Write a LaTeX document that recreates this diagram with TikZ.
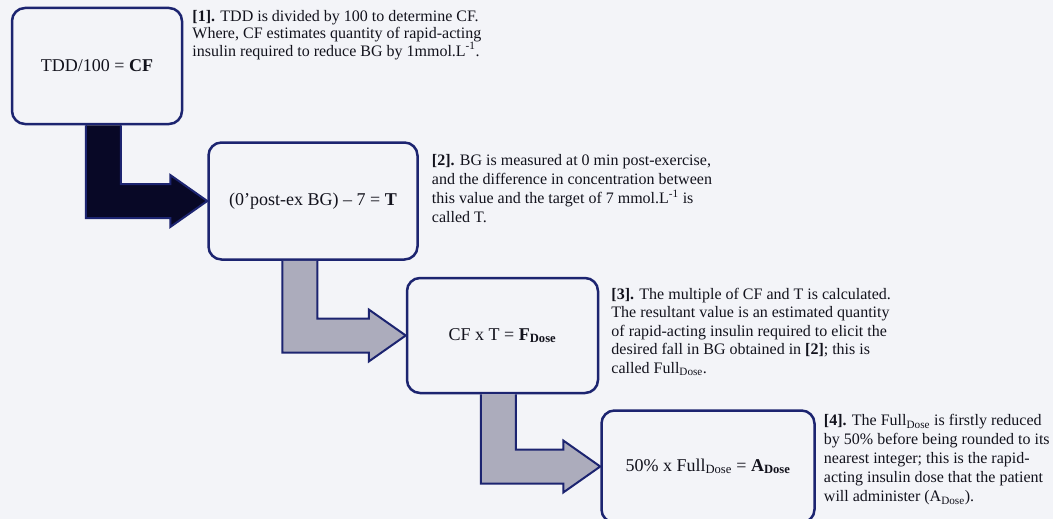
\documentclass[tikz,border=0pt]{standalone}
\usepackage{fontspec}
\setmainfont{Liberation Serif}
\usetikzlibrary{positioning, calc}

\definecolor{paper}{RGB}{243,244,248}
\definecolor{navy}{RGB}{28,36,112}
\definecolor{inkdark}{RGB}{8,8,38}
\definecolor{steelgrey}{RGB}{172,172,188}
\definecolor{ink}{RGB}{18,18,28}

\begin{document}
\begin{tikzpicture}[
    x=1pt, y=1pt,
    box/.style={draw=navy, line width=2.5pt, rounded corners=13pt, fill=paper, align=center, text=ink,
                font=\fontsize{18}{21}\selectfont},
    note/.style={align=left, inner sep=0pt, text=ink, font=\fontsize{16}{19}\selectfont},
    blockarr/.style={draw=navy, line width=2pt, line join=miter}
]

% Canvas
\fill[paper] (0,0) rectangle (1053,-519);
\useasboundingbox (0,0) rectangle (1053,-519);

% Boxes
\node [box, minimum width=170pt, minimum height=116pt] (cf) at (97,-66) {TDD/100 = \textbf{CF}};
\node [box, minimum width=209pt, minimum height=117pt, below right=16pt and 24pt of cf] (tval) {(0’post-ex BG) -- 7 = \textbf{T}};
\node [box, minimum width=191pt, minimum height=115pt, below right=16pt and -13pt of tval] (fdose) {CF x T = \textbf{F\textsubscript{Dose}}};
\node [box, minimum width=213pt, minimum height=112pt, below right=15pt and 1pt of fdose] (adose) {50\% x Full\textsubscript{Dose} = \textbf{A\textsubscript{Dose}}};

% Notes
\node [note, font=\fontsize{16}{17}\selectfont, right=9pt of cf.north east, anchor=north west, yshift=-3pt] (n1)
    {\textbf{[1].} TDD is divided by 100 to determine CF.\\
     Where, CF estimates quantity of rapid-acting\\
     insulin required to reduce BG by 1mmol.L\textsuperscript{-1}.};
\node [note, right=13pt of tval.north east, anchor=north west, yshift=-13pt] (n2)
    {\textbf{[2].} BG is measured at 0 min post-exercise,\\
     and the difference in concentration between\\
     this value and the target of 7 mmol.L\textsuperscript{-1} is\\
     called T.};
\node [note, font=\fontsize{16}{18.5}\selectfont, right=12pt of fdose.north east, anchor=north west, yshift=-11pt] (n3)
    {\textbf{[3].} The multiple of CF and T is calculated.\\
     The resultant value is an estimated quantity\\
     of rapid-acting insulin required to elicit the\\
     desired fall in BG obtained in \textbf{[2]}; this is\\
     called Full\textsubscript{Dose}.};
\node [note, right=8pt of adose.north east, anchor=north west, yshift=-5pt] (n4)
    {\textbf{[4].} The Full\textsubscript{Dose} is firstly reduced\\
     by 50\% before being rounded to its\\
     nearest integer; this is the rapid-\\
     acting insulin dose that the patient\\
     will administer (A\textsubscript{Dose}).};

% Block arrows
\foreach \src/\dst/\col in {cf/tval/inkdark, tval/fdose/steelgrey, fdose/adose/steelgrey}
    \filldraw [blockarr, fill=\col] let \p1=(\src.south west), \p2=(\dst.west) in
        (\x1+75,\y1) -- (\x1+75,\y2-17) -- (\x2-37,\y2-17) -- (\x2-37,\y2-26) -- (\p2)
        -- (\x2-37,\y2+26) -- (\x2-37,\y2+17) -- (\x1+110,\y2+17) -- (\x1+110,\y1);

\end{tikzpicture}
\end{document}
